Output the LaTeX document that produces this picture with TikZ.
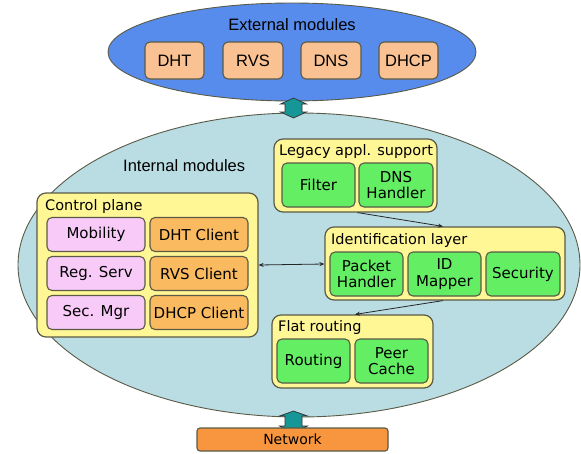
\documentclass[tikz,border=0pt]{standalone}
\usepackage{fontspec}
\setmainfont{DejaVu Sans}
\newfontfamily\arialfont{Liberation Sans}
\usetikzlibrary{shapes.geometric,arrows.meta}

\definecolor{extblue}{RGB}{88,140,236}
\definecolor{intblue}{RGB}{186,221,228}
\definecolor{panelyellow}{RGB}{255,246,150}
\definecolor{modgreen}{RGB}{100,238,100}
\definecolor{modpink}{RGB}{248,202,248}
\definecolor{modorange}{RGB}{250,186,96}
\definecolor{extpeach}{RGB}{250,194,146}
\definecolor{netorange}{RGB}{247,150,62}
\definecolor{linkteal}{RGB}{22,150,150}
\definecolor{edgegray}{RGB}{90,90,70}

\tikzset{
  blob/.style={ellipse, draw=edgegray, line width=0.9pt, inner sep=0pt},
  panel/.style={draw=edgegray, line width=1.2pt, rounded corners=9pt, fill=panelyellow, inner sep=0pt},
  modbox/.style={draw=edgegray, line width=1.1pt, rounded corners=5pt, inner sep=0pt,
                 align=center, font=\fontsize{15}{16.5}\selectfont},
  greenbox/.style={modbox, fill=modgreen, minimum width=73pt, minimum height=44pt},
  pinkbox/.style={modbox, fill=modpink, minimum width=98pt, minimum height=34pt},
  orangebox/.style={modbox, fill=modorange, minimum width=98pt, minimum height=34pt},
  extbox/.style={modbox, fill=extpeach, minimum height=37pt, font=\arialfont\fontsize{16.5}{18}\selectfont},
  paneltitle/.style={anchor=west, inner sep=0pt, font=\fontsize{14.5}{16}\selectfont},
  regiontitle/.style={inner sep=0pt, font=\arialfont\fontsize{16.5}{18}\selectfont},
  link/.style={draw=black!85, line width=0.8pt, -{Stealth[length=5pt,width=4pt]}},
  biglink/.style={fill=linkteal, draw=black!80, line width=0.7pt}
}

\begin{document}
\begin{tikzpicture}[x=1pt, y=-1pt]
\useasboundingbox (0,0) rectangle (581,453);

% outer containers
\node[blob, fill=extblue, minimum width=368pt, minimum height=98pt] (ext) at (292,52) {};
\node[blob, fill=intblue, minimum width=562pt, minimum height=304pt] (int) at (299,265) {};

% teal bridge between external and internal modules
\coordinate (ta) at (293.5,98);
\coordinate (tb) at (293.5,118);
\filldraw[biglink] (ta) -- ++(13,6) -- ++(-4.5,0) -- ++(0,8) -- ++(4.5,0) -- (tb)
  -- ++(-13,-6) -- ++(4.5,0) -- ++(0,-8) -- ++(-4.5,0) -- cycle;

% titles of the two regions
\node[regiontitle] (exttitle) at (292,25) {External modules};
\node[regiontitle, anchor=west] (inttitle) at (123,166) {Internal modules};

% external modules
\node[extbox, minimum width=59pt] (dht)  at (174.5,60.5) {DHT};
\node[extbox, minimum width=60pt] (rvs)  at (253,60.5) {RVS};
\node[extbox, minimum width=60pt] (dns)  at (331,60.5) {DNS};
\node[extbox, minimum width=59pt] (dhcp) at (408.5,60.5) {DHCP};

% control plane
\node[panel, minimum width=221pt, minimum height=144pt] (cp) at (147.5,265) {};
\node[paneltitle] (cptitle) at (45,206) {Control plane};
\node[pinkbox]   (mob)  at (96,234.5)  {Mobility};
\node[orangebox] (dhtc) at (199,234.5) {DHT Client};
\node[pinkbox]   (reg)  at (96,273.5)  {Reg. Serv};
\node[orangebox] (rvsc) at (199,273.5) {RVS Client};
\node[pinkbox]   (sec)  at (96,312.5)  {Sec. Mgr};
\node[orangebox] (dhcpc) at (199,312.5) {DHCP Client};

% legacy application support
\node[panel, minimum width=163pt, minimum height=73pt] (leg) at (355.5,175.5) {};
\node[paneltitle] (legtitle) at (279,151) {Legacy appl. support};
\node[greenbox] (filter) at (318.5,185) {Filter};
\node[greenbox, minimum width=74pt] (dnsh) at (396,185) {DNS\\Handler};

% identification layer
\node[panel, minimum width=240pt, minimum height=73pt] (idl) at (445,263.5) {};
\node[paneltitle] (idtitle) at (331,240) {Identification layer};
\node[greenbox] (pkt) at (366.5,274) {Packet\\Handler};
\node[greenbox] (idm) at (444.5,274) {ID\\Mapper};
\node[greenbox, minimum width=74pt] (secu) at (523,274) {Security};

% flat routing
\node[panel, minimum width=161pt, minimum height=73pt] (flat) at (352.5,351.5) {};
\node[paneltitle] (flattitle) at (278,327) {Flat routing};
\node[greenbox] (rout) at (313.5,361) {Routing};
\node[greenbox] (peer) at (391.5,361) {Peer\\Cache};

% teal bridge down to the network
\coordinate (ba) at (293.5,411);
\coordinate (bb) at (293.5,434);
\filldraw[biglink] (ba) -- ++(14,5) -- ++(-5.5,0) -- ++(0,10) -- ++(5.5,0) -- (bb)
  -- ++(-14,-8) -- ++(5.5,0) -- ++(0,-10) -- ++(-5.5,0) -- cycle;

% network
\node[modbox, fill=netorange, minimum width=191pt, minimum height=23pt, rounded corners=3pt,
      font=\fontsize{14}{15}\selectfont] (net) at (292.5,439.5) {Network};

% connectors between the internal panels
\draw[link, {Stealth[length=5pt,width=4pt]}-{Stealth[length=5pt,width=4pt]}]
  (cp.east |- 0,265) -- (idl.west |- 0,264);
\draw[link] (leg.south) ++(2,0) coordinate (legout) -- (idl.north -| 443,0);
\draw[link] (idl.south -| 443,0) -- (flat.north -| 355,0);
\end{tikzpicture}
\end{document}
